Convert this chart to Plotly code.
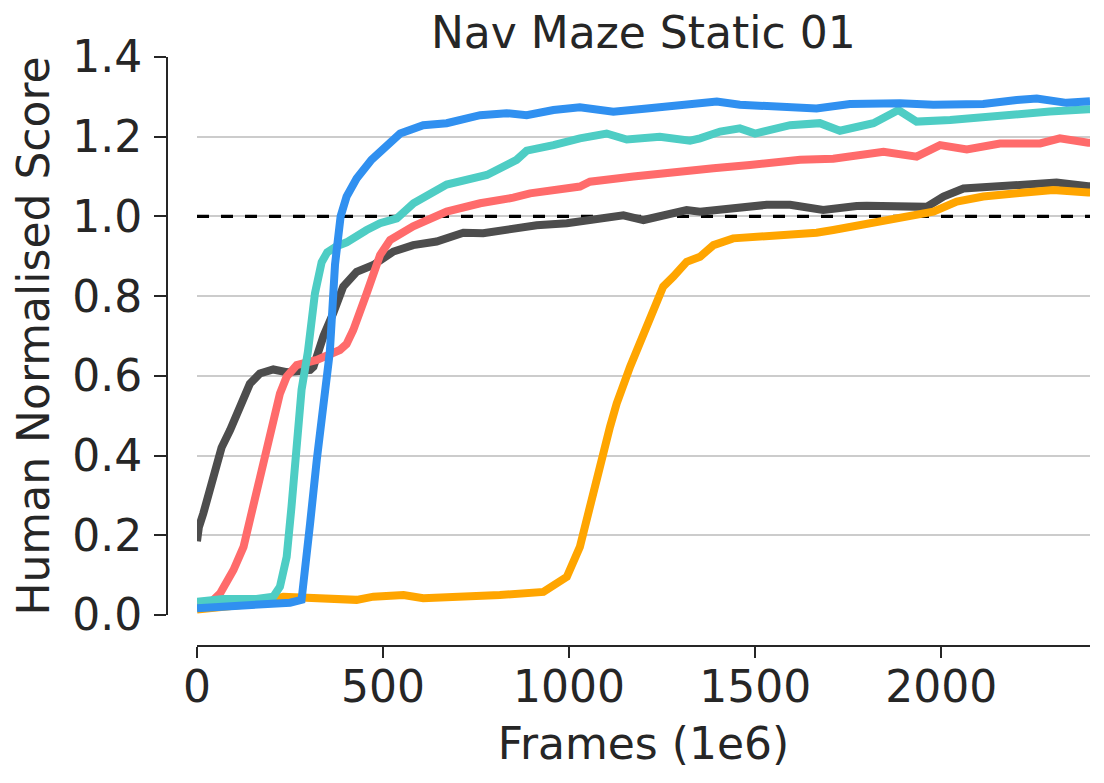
import plotly.graph_objects as go

# frames (1e6) and human normalised score
dark_x = [0, 5, 17, 44, 66, 89, 107, 142, 169, 205, 241, 277, 304, 313, 340, 366, 393, 429, 474,
          528, 581, 644, 716, 769, 850, 913, 994, 1146, 1200, 1316, 1352, 1441, 1531, 1594, 1683,
          1773, 1800, 1961, 2006, 2060, 2158, 2248, 2310, 2395, 2400]
dark_y = [0.185, 0.22, 0.255, 0.355, 0.42, 0.464, 0.50, 0.58, 0.606, 0.616, 0.609, 0.61, 0.615, 0.623,
          0.70, 0.757, 0.824, 0.861, 0.878, 0.912, 0.928, 0.937, 0.959, 0.958, 0.970, 0.978, 0.983,
          1.003, 0.991, 1.016, 1.012, 1.020, 1.029, 1.029, 1.016, 1.026, 1.027, 1.024, 1.05, 1.070,
          1.076, 1.079, 1.085, 1.076, 1.076]

red_x = [0, 35, 62, 98, 125, 151, 178, 205, 223, 241, 268, 322, 366, 384, 402, 420, 456, 492, 519,
         581, 671, 761, 850, 895, 1029, 1056, 1173, 1209, 1307, 1388, 1486, 1621, 1710, 1845, 1934,
         1997, 2069, 2158, 2266, 2319, 2395, 2400]
red_y = [0.02, 0.03, 0.054, 0.113, 0.171, 0.272, 0.389, 0.489, 0.556, 0.598, 0.627, 0.64, 0.657,
         0.665, 0.68, 0.715, 0.807, 0.903, 0.941, 0.975, 1.012, 1.033, 1.047, 1.058, 1.075, 1.087,
         1.10, 1.104, 1.112, 1.121, 1.129, 1.142, 1.145, 1.162, 1.150, 1.179, 1.168, 1.183, 1.183,
         1.196, 1.185, 1.185]

orange_x = [0, 71, 160, 232, 295, 429, 474, 555, 608, 680, 814, 931, 994, 1029, 1056, 1083, 1110,
            1128, 1164, 1200, 1227, 1253, 1280, 1316, 1352, 1388, 1441, 1531, 1576, 1665, 1710,
            1777, 1889, 1979, 2042, 2113, 2203, 2301, 2395, 2400]
orange_y = [0.014, 0.021, 0.029, 0.046, 0.042, 0.038, 0.046, 0.05, 0.042, 0.044, 0.05, 0.058, 0.096,
            0.171, 0.263, 0.372, 0.472, 0.531, 0.623, 0.707, 0.765, 0.824, 0.849, 0.886, 0.899,
            0.928, 0.945, 0.949, 0.95, 0.959, 0.966, 0.978, 1.0, 1.012, 1.037, 1.05, 1.058, 1.066,
            1.06, 1.06]

teal_x = [0, 71, 160, 205, 223, 241, 254, 268, 281, 298, 317, 335, 350, 375, 402, 456, 492, 537,
          582, 671, 707, 779, 859, 886, 958, 1029, 1101, 1155, 1244, 1325, 1352, 1406, 1459, 1500,
          1594, 1674, 1728, 1818, 1885, 1934, 2024, 2113, 2203, 2292, 2395, 2400]
teal_y = [0.033, 0.040, 0.040, 0.046, 0.071, 0.146, 0.272, 0.42, 0.565, 0.66, 0.807, 0.885, 0.91,
          0.925, 0.935, 0.966, 0.983, 0.995, 1.033, 1.08, 1.087, 1.104, 1.142, 1.165, 1.179, 1.196,
          1.208, 1.193, 1.2, 1.19, 1.196, 1.213, 1.221, 1.208, 1.229, 1.234, 1.215, 1.234, 1.267,
          1.238, 1.242, 1.25, 1.259, 1.263, 1.269, 1.269]

blue_x = [0, 71, 160, 250, 281, 290, 304, 322, 340, 357, 371, 386, 402, 429, 469, 492, 546, 608,
          671, 761, 832, 886, 958, 1029, 1119, 1209, 1298, 1343, 1397, 1459, 1576, 1665, 1755,
          1889, 1979, 2113, 2203, 2257, 2337, 2395, 2400]
blue_y = [0.017, 0.021, 0.025, 0.031, 0.038, 0.105, 0.23, 0.39, 0.535, 0.66, 0.88, 1.0, 1.05,
          1.095, 1.142, 1.162, 1.208, 1.229, 1.234, 1.254, 1.259, 1.254, 1.267, 1.274, 1.263,
          1.271, 1.277, 1.285, 1.288, 1.28, 1.275, 1.271, 1.282, 1.284, 1.28, 1.282, 1.292, 1.296,
          1.285, 1.289, 1.289]

x_range = [0, 2400]
y_range = [0, 1.4]
human_level = 1.0

series = [
    (dark_x, dark_y, "#4d4d4d"),
    (red_x, red_y, "#ff6b6b"),
    (orange_x, orange_y, "#ffa500"),
    (teal_x, teal_y, "#4ecdc4"),
    (blue_x, blue_y, "#3090f0"),
]

text_col = "#262626"

fig = go.Figure()

# human level reference, drawn under the curves
fig.add_trace(go.Scatter(x=x_range, y=[human_level, human_level], mode="lines",
                         line=dict(color="black", width=3.2, dash="12px,12px"),
                         showlegend=False, hoverinfo="skip"))

for xs, ys, col in series:
    fig.add_trace(go.Scatter(x=xs, y=ys, mode="lines",
                             line=dict(color=col, width=8), showlegend=False))

# the page body has an 8px margin, so the figure is drawn shifted by 8px
fig.update_layout(
    width=1104, height=783,
    margin=dict(l=159, r=22, t=49, b=145, autoexpand=False),
    paper_bgcolor="white", plot_bgcolor="white",
    font=dict(family="DejaVu Sans", size=44, color=text_col),
    title=dict(text="Nav Maze Static 01", font=dict(size=44),
               xref="paper", x=0.516, xanchor="center",
               yref="container", y=0.968, yanchor="middle", automargin=False),
    xaxis=dict(range=x_range, domain=[0.0325, 1], anchor="free", position=0,
               tickvals=[0, 500, 1000, 1500, 2000], showgrid=False, zeroline=False,
               showline=True, linecolor=text_col, linewidth=2,
               ticks="outside", ticklen=11, tickwidth=2, tickcolor=text_col,
               ticklabelstandoff=-9, automargin=False,
               title=dict(text="Frames (1e6)", font=dict(size=44), standoff=16)),
    yaxis=dict(range=y_range, domain=[0.0526, 1], anchor="free", position=0,
               tick0=0, dtick=0.2, tickformat=".1f", showgrid=True,
               gridcolor="#cccccc", gridwidth=1.8, zeroline=False,
               showline=True, linecolor=text_col, linewidth=2,
               ticks="outside", ticklen=12, tickwidth=2, tickcolor=text_col,
               ticklabelstandoff=3, automargin=False,
               title=dict(text="Human Normalised Score", font=dict(size=44), standoff=10)),
)

fig.write_html("out.html")
